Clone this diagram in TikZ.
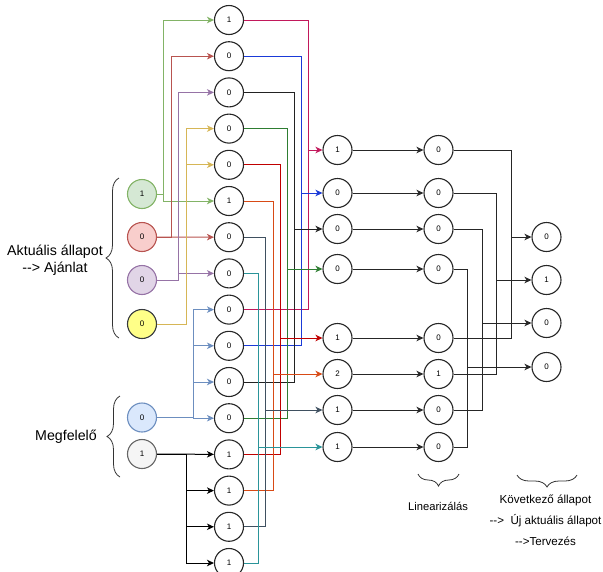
\documentclass[tikz,border=0pt]{standalone}
\usepackage{fontspec}
\setmainfont{Liberation Sans}
\usetikzlibrary{arrows.meta,decorations.pathreplacing}
\definecolor{gF}{HTML}{D5E8D4}\definecolor{gS}{HTML}{82B366}
\definecolor{rF}{HTML}{F8CECC}\definecolor{rS}{HTML}{B85450}
\definecolor{pF}{HTML}{E1D5E7}\definecolor{pS}{HTML}{9673A6}
\definecolor{yF}{HTML}{FFFF88}\definecolor{yS}{HTML}{D6B656}\definecolor{yD}{HTML}{36393D}
\definecolor{bF}{HTML}{DAE8FC}\definecolor{bS}{HTML}{6C8EBF}
\definecolor{kF}{HTML}{F5F5F5}\definecolor{kS}{HTML}{666666}
\definecolor{cCrim}{HTML}{C2185B}
\definecolor{cBlu}{HTML}{1A3AD8}
\definecolor{cBlk}{HTML}{222222}
\definecolor{cGrn}{HTML}{2E7D32}
\definecolor{cRed}{HTML}{C00000}
\definecolor{cOra}{HTML}{D84A15}
\definecolor{cSla}{HTML}{3F5060}
\definecolor{cTea}{HTML}{2A9499}
\begin{document}
\begin{tikzpicture}[x=1pt,y=-1pt,
  circ/.style={circle,draw=black!85,line width=1.1pt,minimum size=29pt,inner sep=0pt,fill=white,font=\fontsize{8}{9}\selectfont},
  arr/.style={-{Stealth[length=7pt,width=6.5pt,inset=2pt]}},
  ln/.style={line width=1pt},
  lbl/.style={font=\fontsize{14.2}{17}\selectfont,align=center,inner sep=0pt},
  brc/.style={decorate,decoration={brace,amplitude=#1},line width=0.8pt,draw=black!80}
]
\useasboundingbox (0,0) rectangle (603,571);
% input circles
\node[circ,fill=gF,draw=gS] (gin) at (142,194) {1};
\node[circ,fill=rF,draw=rS] (rin) at (142,237) {0};
\node[circ,fill=pF,draw=pS] (pin) at (142,280) {0};
\node[circ,fill=yF,draw=yD] (yin) at (142,324) {0};
\node[circ,fill=bF,draw=bS] (bin) at (142,417.5) {0};
\node[circ,fill=kF,draw=kS] (kin) at (142,454) {1};
% column 1
\foreach \i/\v in {0/1,1/0,2/0,3/0,4/0,5/1,6/0,7/0,8/0,9/0,10/0,11/0,12/1,13/1,14/1,15/1}
  \node[circ] (m\i) at (229,{20+36.2*\i}) {\v};
% column 2 and 3
\foreach \i/\y/\a/\b in {0/150/1/0,1/193/0/0,2/229/0/0,3/269/0/0,4/338/1/0,5/374/2/1,6/410/1/0,7/447/1/0}{
  \node[circ] (n\i) at (337.5,\y) {\a};
  \node[circ] (o\i) at (438.5,\y) {\b};
}
% column 4
\foreach \i/\y/\v in {0/237/0,1/280/1,2/323/0,3/367/0}
  \node[circ] (p\i) at (546.5,\y) {\v};
% vertical coordinates
\coordinate (vg) at (163,0); \coordinate (vr) at (171,0); \coordinate (vp) at (178,0);
\coordinate (vy) at (186,0); \coordinate (vb) at (193,0); \coordinate (vk) at (186,0);
\coordinate (vCrim) at (308,0); \coordinate (vBlu) at (301,0); \coordinate (vBlk) at (294,0);
\coordinate (vGrn) at (287,0); \coordinate (vRed) at (280,0); \coordinate (vOra) at (273,0);
\coordinate (vSla) at (265,0); \coordinate (vTea) at (258,0);
\coordinate (w0) at (511,0); \coordinate (w1) at (496,0); \coordinate (w2) at (482,0); \coordinate (w3) at (467,0);
% inputs to column 1
\draw[ln,gS,arr] (gin.east) -| (vg |- m0) -- (m0);
\draw[ln,gS,arr] (gin.east) -| (vg |- m5) -- (m5);
\draw[ln,rS,arr] (rin.east) -| (vr |- m1) -- (m1);
\draw[ln,rS,arr] (rin) -- (m6);
\draw[ln,pS,arr] (pin.east) -| (vp |- m2) -- (m2);
\draw[ln,pS,arr] (pin.east) -| (vp |- m7) -- (m7);
\draw[ln,yS,arr] (yin.east) -| (vy |- m3) -- (m3);
\draw[ln,yS,arr] (yin.east) -| (vy |- m4) -- (m4);
\foreach \k in {8,9,10,11}
  \draw[ln,bS,arr] (bin.east) -| (vb |- m\k) -- (m\k);
\draw[ln,black,arr] (kin) -- (m12);
\foreach \k in {13,14,15}
  \draw[ln,black,arr] (kin.east) -| (vk |- m\k) -- (m\k);
% column 1 to column 2
\foreach \a/\b/\t/\c/\v in {0/8/0/cCrim/vCrim,1/9/1/cBlu/vBlu,2/10/2/cBlk/vBlk,3/11/3/cGrn/vGrn,4/12/4/cRed/vRed,5/13/5/cOra/vOra,6/14/6/cSla/vSla,7/15/7/cTea/vTea}{
  \draw[ln,\c] (m\b.east) -| (\v |- n\t);
  \draw[ln,\c,arr] (m\a.east) -| (\v |- n\t) -- (n\t);
}
% column 2 to column 3
\foreach \i in {0,...,7}
  \draw[ln,black!85,arr] (n\i) -- (o\i);
% column 3 to column 4
\foreach \a/\b/\t/\w in {0/4/0/w0,1/5/1/w1,2/6/2/w2,3/7/3/w3}{
  \draw[ln,black!85] (o\b.east) -| (\w |- p\t);
  \draw[ln,black!85,arr] (o\a.east) -| (\w |- p\t) -- (p\t);
}
% braces
\coordinate (ba1) at (119,338); \coordinate (ba2) at (119,178);
\draw[brc=13pt] (ba1) -- (ba2);
\coordinate (bm1) at (120,477); \coordinate (bm2) at (120,396);
\draw[brc=13pt] (bm1) -- (bm2);
\coordinate (bl1) at (459,474); \coordinate (bl2) at (418,474);
\draw[brc=12pt] (bl1) -- (bl2);
\coordinate (bk1) at (577,475); \coordinate (bk2) at (517,475);
\draw[brc=12pt] (bk1) -- (bk2);
% labels
\node[lbl] (t1) at (55,260.5) {Aktuális állapot\\-{}-> Ajánlat};
\node[lbl] (t2) at (66,437) {Megfelelő};
\node[lbl,font=\fontsize{11.2}{12}\selectfont] (t3) at (438,506) {Linearizálás};
\node[lbl,font=\fontsize{11.6}{21}\selectfont] (t4) at (545.5,520.5) {Következő állapot\\-{}->~~Új aktuális állapot\\-{}->Tervezés};
\end{tikzpicture}
\end{document}
